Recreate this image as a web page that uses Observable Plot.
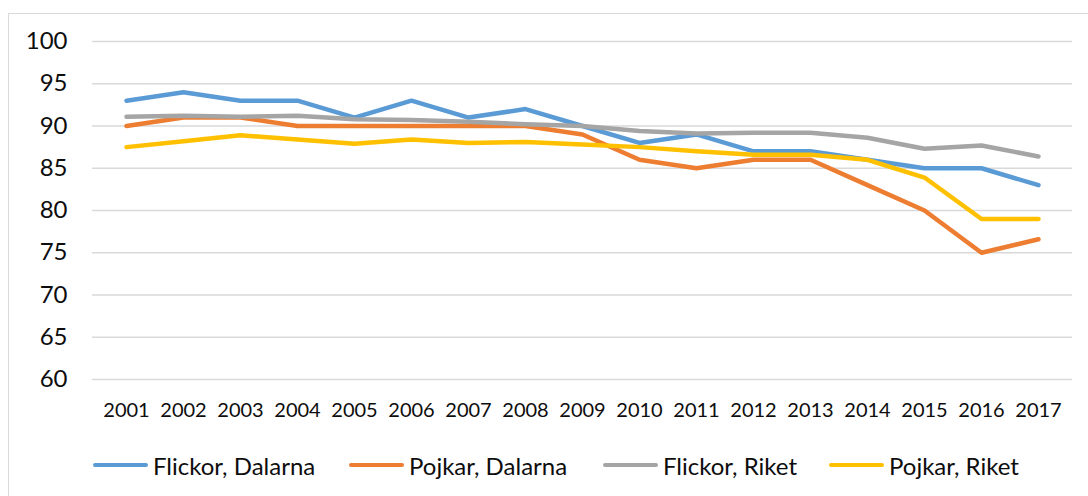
<!DOCTYPE html>
<html>
<head>
<meta charset="utf-8">
<script src="https://cdn.jsdelivr.net/npm/d3@7"></script>
<script src="https://cdn.jsdelivr.net/npm/@observablehq/plot@0.6"></script>
<style>
  html, body { margin: 0; padding: 0; background: #fff; }
  body { width: 1088px; height: 496px; overflow: hidden; font-family: Lato, "Open Sans", sans-serif; }
  #wrap { position: relative; width: 1088px; height: 496px; }
  #frame { position: absolute; left: 8px; top: 13px; width: 1200px; height: 600px;
           border-left: 1.5px solid #d9d9d9; border-top: 1.5px solid #d9d9d9; }
  #chart { position: absolute; left: 0; top: 0; }
  .leg { position: absolute; top: 452px; height: 26px; display: flex; align-items: center;
         font-size: 24px; color: #0d0d0d; white-space: nowrap; }
  .leg .sw { display: inline-block; width: 55px; height: 4.5px; border-radius: 3px; margin-right: 5px; }
</style>
</head>
<body>
<div id="wrap">
  <div id="frame"></div>
  <div id="chart"></div>
  <div id="legend"></div>
</div>
<script>
const years = ["2001","2002","2003","2004","2005","2006","2007","2008","2009","2010","2011","2012","2013","2014","2015","2016","2017"];
const flickorDalarna = [93, 94, 93, 93, 91, 93, 91, 92, 90, 88, 89, 87, 87, 86, 85, 85, 83];
const pojkarDalarna  = [90, 91, 91, 90, 90, 90, 90, 90, 89, 86, 85, 86, 86, 83, 80, 75, 76.6];
const flickorRiket   = [91.1, 91.2, 91.1, 91.2, 90.8, 90.7, 90.5, 90.2, 90.0, 89.4, 89.1, 89.2, 89.2, 88.6, 87.3, 87.7, 86.4];
const pojkarRiket    = [87.5, 88.2, 88.9, 88.4, 87.9, 88.4, 88.0, 88.1, 87.8, 87.5, 87.0, 86.6, 86.6, 86.0, 83.9, 79.0, 79.0];
const seriesNames  = ["Flickor, Dalarna", "Pojkar, Dalarna", "Flickor, Riket", "Pojkar, Riket"];
const seriesColors = ["#5B9BD5", "#ED7D31", "#A5A5A5", "#FFC000"];
const yTicks = [60, 65, 70, 75, 80, 85, 90, 95, 100];

const seriesValues = [flickorDalarna, pojkarDalarna, flickorRiket, pojkarRiket];
const legendLeft = [93, 349, 603, 829];

const chart = Plot.plot({
  width: 1088,
  height: 420,
  marginLeft: 92,
  marginRight: 16,
  marginTop: 41,
  marginBottom: 41,
  style: { fontFamily: "Lato, 'Open Sans', sans-serif", color: "#0d0d0d", background: "transparent" },
  x: { type: "point", domain: years, padding: 0.5, label: null },
  y: { domain: [60, 100], label: null },
  marks: [
    Plot.ruleY(yTicks, { stroke: "#d9d9d9", strokeWidth: 1.5 }),
    Plot.axisY({ ticks: yTicks, tickSize: 0, tickPadding: 25, fontSize: 24, label: null }),
    Plot.axisX({ tickSize: 0, tickPadding: 23, fontSize: 20, label: null }),
    ...seriesValues.map((vals, i) =>
      Plot.line(years.map((yr, j) => ({ year: yr, value: vals[j] })), {
        x: "year", y: "value", stroke: seriesColors[i], strokeWidth: 4.5,
        strokeLinecap: "round", strokeLinejoin: "round"
      })
    )
  ]
});
document.getElementById("chart").appendChild(chart);

const legend = document.getElementById("legend");
seriesNames.forEach((name, i) => {
  const item = document.createElement("div");
  item.className = "leg";
  item.style.left = legendLeft[i] + "px";
  const sw = document.createElement("span");
  sw.className = "sw";
  sw.style.background = seriesColors[i];
  item.appendChild(sw);
  const t = document.createElement("span");
  t.textContent = name;
  item.appendChild(t);
  legend.appendChild(item);
});
</script>
</body>
</html>
